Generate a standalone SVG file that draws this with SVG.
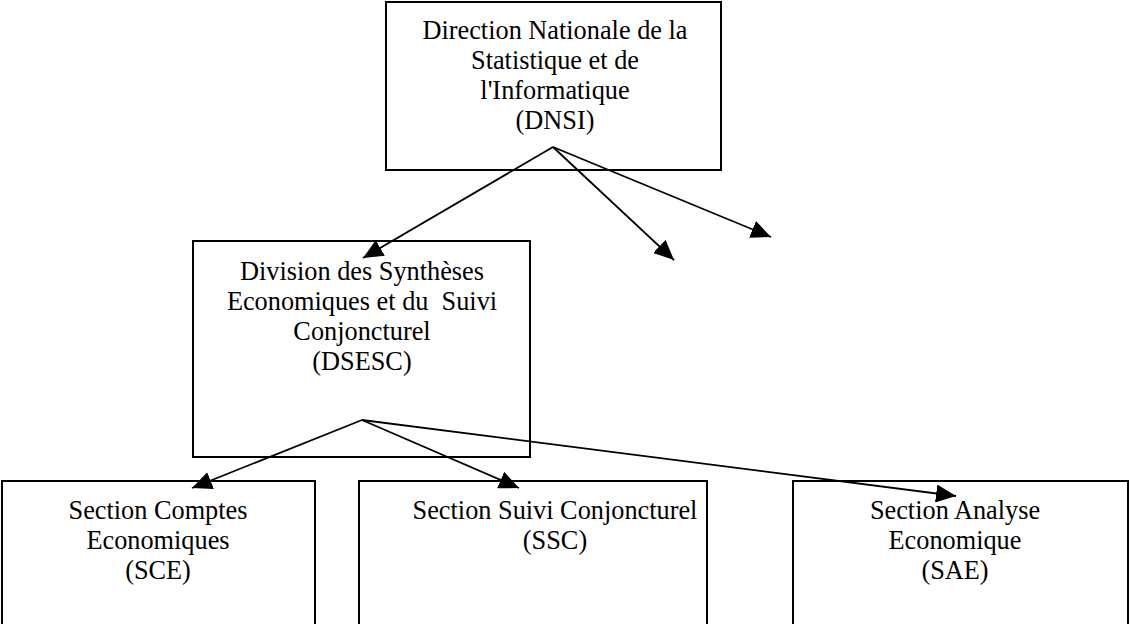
<svg xmlns="http://www.w3.org/2000/svg" width="1130" height="624" viewBox="0 0 1130 624">
<defs>
<style>
.box{fill:#fff;stroke:#000;stroke-width:2}
.t{font-family:"Liberation Serif","Times New Roman",serif;font-size:26.3px;fill:#000;text-anchor:middle}
.c{stroke:#000;stroke-width:1.8;fill:none;marker-end:url(#ah)}
</style>
<marker id="ah" markerUnits="userSpaceOnUse" markerWidth="22" markerHeight="18" refX="20" refY="9" orient="auto">
<path d="M0,0 L20,9 L0,18 Z" fill="#000"/>
</marker>
</defs>
<rect width="1130" height="624" fill="#fff"/>
<g id="n-dnsi">
<rect class="box" x="386" y="2" width="335" height="168"/>
<text class="t" x="555" y="39">Direction Nationale de la</text>
<text class="t" x="555" y="69">Statistique et de</text>
<text class="t" x="555" y="99">l'Informatique</text>
<text class="t" x="555" y="129">(DNSI)</text>
</g>
<g id="n-dsesc">
<rect class="box" x="193" y="241" width="337" height="216"/>
<text class="t" x="362" y="280">Division des Synthèses</text>
<text class="t" x="362" y="310" xml:space="preserve">Economiques et du  Suivi</text>
<text class="t" x="362" y="340">Conjoncturel</text>
<text class="t" x="362" y="370">(DSESC)</text>
</g>
<g id="n-sce">
<rect class="box" x="2" y="481" width="313" height="150"/>
<text class="t" x="158" y="519">Section Comptes</text>
<text class="t" x="158" y="549">Economiques</text>
<text class="t" x="158" y="579">(SCE)</text>
</g>
<g id="n-ssc">
<rect class="box" x="359" y="481" width="348" height="150"/>
<text class="t" x="555" y="519">Section Suivi Conjoncturel</text>
<text class="t" x="555" y="549">(SSC)</text>
</g>
<g id="n-sae">
<rect class="box" x="793" y="481" width="335" height="150"/>
<text class="t" x="955" y="519">Section Analyse</text>
<text class="t" x="955" y="549">Economique</text>
<text class="t" x="955" y="579">(SAE)</text>
</g>
<g id="connectors">
<line class="c" x1="553" y1="147" x2="363" y2="258"/>
<line class="c" x1="553" y1="147" x2="674" y2="260"/>
<line class="c" x1="553" y1="147" x2="771" y2="237"/>
<line class="c" x1="362" y1="420" x2="192" y2="488"/>
<line class="c" x1="362" y1="420" x2="519" y2="488"/>
<line class="c" x1="362" y1="420" x2="956" y2="496"/>
</g>
</svg>
